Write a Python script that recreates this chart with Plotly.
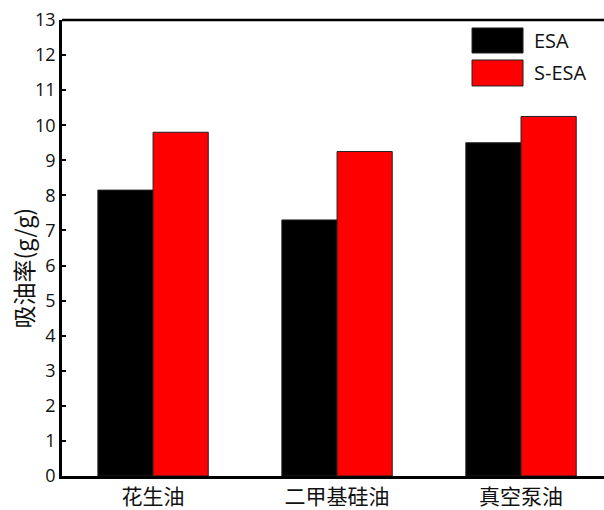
import plotly.graph_objects as go

# Oil absorption capacity (g/g) for each oil type
oils = ["花生油", "二甲基硅油", "真空泵油"]
esa = [8.15, 7.3, 9.5]
s_esa = [9.8, 9.25, 10.25]
series_names = ["ESA", "S-ESA"]
series_colors = ["#000000", "#ff0000"]
y_ticks = list(range(0, 14))

fig = go.Figure()
for name, vals, col in zip(series_names, [esa, s_esa], series_colors):
    fig.add_trace(go.Bar(
        x=oils, y=vals, name=name,
        marker=dict(color=col, line=dict(color="#222222", width=1)),
        showlegend=False,
    ))

cn_font = "Noto Sans CJK SC"
num_font = "Open Sans, Noto Sans, sans-serif"

fig.update_layout(
    width=604, height=510,
    margin=dict(l=62, r=0, t=20, b=34),
    paper_bgcolor="white", plot_bgcolor="white",
    barmode="group", bargap=0.4, bargroupgap=0,
    xaxis=dict(
        range=[-0.495, 2.451], automargin=False,
        showline=True, linecolor="#000", linewidth=2.5,
        ticks="", showgrid=False, zeroline=False, ticklabelstandoff=0,
        tickfont=dict(family=cn_font, size=21, color="#111"),
    ),
    yaxis=dict(
        range=[0, 13], tickvals=y_ticks, automargin=False,
        showline=True, linecolor="#000", linewidth=2.5,
        ticks="inside", ticklen=4, tickwidth=2, tickcolor="#000",
        showgrid=False, zeroline=False,
        tickfont=dict(family=num_font, size=18, color="#111"),
    ),
)

# y-axis title
fig.add_annotation(xref="paper", yref="paper", x=-0.072, y=0.455,
                   text="吸油率(g/g)", textangle=-90, showarrow=False,
                   xanchor="center", yanchor="middle",
                   font=dict(family=cn_font, size=23, color="#111"))

# top frame line
fig.add_shape(type="line", xref="paper", yref="paper", x0=0, x1=1, y0=1, y1=1,
              line=dict(color="#000", width=2.5))

# legend: swatches with labels
legend_rows = [(0.9825, 0.9276), (0.9123, 0.8553)]
for (top, bot), name, col in zip(legend_rows, series_names, series_colors):
    fig.add_shape(type="rect", xref="paper", yref="paper",
                  x0=0.7565, x1=0.8506, y0=bot, y1=top,
                  fillcolor=col, line=dict(color="#222", width=1))
    fig.add_annotation(xref="paper", yref="paper", x=0.867, y=(top + bot) / 2,
                       text=name, showarrow=False, xanchor="left", yanchor="middle",
                       font=dict(family=num_font, size=20, color="#111"))

fig.write_html("out.html")
